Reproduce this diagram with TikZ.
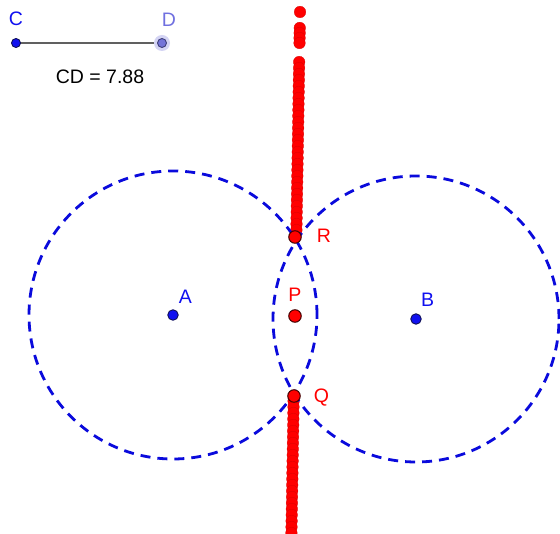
\documentclass[tikz,border=0pt]{standalone}
\usepackage{fontspec}
\setmainfont{Liberation Sans}
\definecolor{ptblue}{HTML}{1010F0}
\definecolor{ptdark}{HTML}{10105A}
\definecolor{circblue}{HTML}{0A0ADC}
\definecolor{dfill}{HTML}{7474D8}
\definecolor{dhalo}{HTML}{D4D4F4}
\definecolor{dlabel}{HTML}{7070E0}
\definecolor{segcol}{HTML}{606060}
\begin{document}
\begin{tikzpicture}[x=1pt,y=-1pt,
  lbl/.style={inner sep=0pt, font=\fontsize{19.5}{19.5}\selectfont},
  bluept/.style={circle, fill=ptblue, draw=ptdark, line width=0.9pt, minimum size=10.5pt, inner sep=0pt},
  redpt/.style={circle, fill=red, draw=black!75!red, line width=1pt, minimum size=12.5pt, inner sep=0pt},
  tracedot/.style={fill=red, draw=red!85!black, line width=0.3pt},
  circ/.style={draw=circblue, line width=2.8pt, dash pattern=on 10pt off 7pt}]
\useasboundingbox (0,0) rectangle (560,534);
\fill[white] (0,0) rectangle (560,534);

% trace of the locus
\foreach \yy in {12,28,33,38,43,62,68,...,232,401,407,...,533}{
  \pgfmathsetmacro{\xx}{295-0.0165*(\yy-316)}
  \fill[tracedot] (\xx,\yy) circle[radius=5.8pt];
}

% centres and circles
\coordinate (A) at (173,315);
\coordinate (B) at (416,319);
\draw[circ] (A) circle[radius=144pt];
\draw[circ] (B) circle[radius=143pt];

% segment CD
\coordinate (C) at (16,43);
\coordinate (D) at (162,43);
\draw[segcol, line width=1.6pt] (C) -- (D);
\fill[dhalo] (D) circle[radius=8pt];
\node[circle, fill=dfill, draw=ptdark!80, line width=0.9pt, minimum size=9pt, inner sep=0pt] (Dpt) at (D) {};
\node[bluept, minimum size=9pt] (Cpt) at (C) {};
\node[lbl, text=ptblue] (Clbl) at (16,19) {C};
\node[lbl, text=dlabel] (Dlbl) at (169,19.5) {D};
\node[lbl] (CDlbl) at (100,77) {CD = 7.88};

% points A and B
\node[bluept] (Apt) at (A) {};
\node[bluept] (Bpt) at (B) {};
\node[lbl, text=ptblue] (Albl) at (185.5,296.5) {A};
\node[lbl, text=ptblue] (Blbl) at (427.5,299.5) {B};

% points R, P, Q
\node[redpt] (R) at (295,237) {};
\node[redpt] (P) at (295,316) {};
\node[redpt] (Q) at (294,396) {};
\node[lbl, text=red] (Rlbl) at (324,235.5) {R};
\node[lbl, text=red] (Plbl) at (295,294.5) {P};
\node[lbl, text=red] (Qlbl) at (321.5,397.5) {Q};
\end{tikzpicture}
\end{document}
